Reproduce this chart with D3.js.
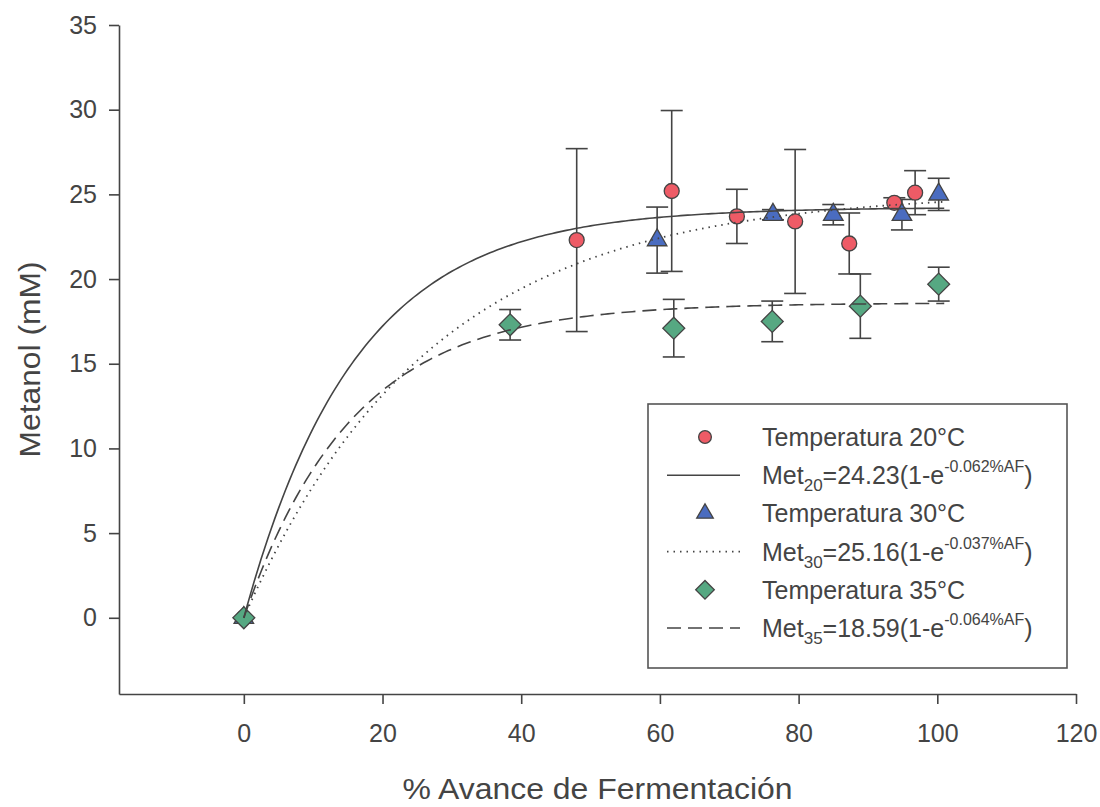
<!DOCTYPE html>
<html>
<head>
  <title>Metanol vs Avance de Fermentacion</title>
  <script src="https://d3js.org/d3.v7.min.js"></script>
  <style>
    body { margin: 0; background: #fff; }
    svg text { font-family: "Liberation Sans", Arial, sans-serif; fill: #444; }
  </style>
</head>
<body>
  <div id="chart"></div>
  <script>
    // ---- data ----
    const xTicks = [0, 20, 40, 60, 80, 100, 120];
    const yTicks = [0, 5, 10, 15, 20, 25, 30, 35];

    // 20 C  (x = % avance, y = metanol mM, e = error)
    const x20 = [0, 48.0, 61.7, 71.1, 79.5, 87.3, 93.8, 96.8];
    const y20 = [0, 22.3, 25.2, 23.7, 23.4, 22.1, 24.5, 25.1];
    const e20 = [0, 5.4, 4.75, 1.6, 4.25, 1.8, 0.3, 1.3];

    // 30 C
    const x30 = [0, 59.6, 76.3, 85.0, 94.9, 100.2];
    const y30 = [0, 22.3, 23.8, 23.8, 23.8, 25.0];
    const e30 = [0, 1.95, 0.3, 0.6, 0.9, 0.95];

    // 35 C
    const x35 = [0, 38.4, 62.0, 76.2, 88.9, 100.2];
    const y35 = [0, 17.3, 17.1, 17.5, 18.4, 19.7];
    const e35 = [0, 0.9, 1.7, 1.2, 1.9, 1.0];

    // fitted models from the legend: Met = A(1 - e^(-k %AF))
    const fitA = [24.23, 25.16, 18.59];
    const fitK = [0.062, 0.037, 0.064];
    const fitLabels = ["20", "30", "35"];
    const fitTexts = ["24.23", "25.16", "18.59"];
    const fitExp = ["-0.062%AF", "-0.037%AF", "-0.064%AF"];

    const width = 1100, height = 807;
    const svg = d3.select("#chart").append("svg")
      .attr("width", width)
      .attr("height", height);

    const xScale = d3.scaleLinear().domain([-18, 120]).range([119, 1076]);
    const yScale = d3.scaleLinear().domain([-4.5, 35]).range([694, 25]);

    const ink = "#444";

    // axes
    const xAxis = svg.append("g")
      .attr("transform", "translate(0," + yScale(-4.5) + ")")
      .call(d3.axisBottom(xScale).tickValues(xTicks).tickSize(10).tickSizeOuter(0).tickPadding(20));
    const yAxis = svg.append("g")
      .attr("transform", "translate(" + xScale(-18) + ",0)")
      .call(d3.axisLeft(yScale).tickValues(yTicks).tickSize(10).tickSizeOuter(0).tickPadding(12));

    [xAxis, yAxis].forEach(function(ax) {
      ax.select(".domain").attr("stroke", ink).attr("stroke-width", 1.6);
      ax.selectAll(".tick line").attr("stroke", ink).attr("stroke-width", 1.6);
      ax.selectAll(".tick text")
        .style("font-family", "'Liberation Sans', Arial, sans-serif")
        .style("font-size", "25px")
        .attr("fill", ink);
    });
    xAxis.selectAll(".tick text").attr("dy", "0.71em");

    // axis titles
    svg.append("text")
      .attr("x", (xScale(-18) + xScale(120)) / 2)
      .attr("y", 799)
      .attr("text-anchor", "middle")
      .style("font-size", "30px")
      .attr("textLength", 390)
      .attr("lengthAdjust", "spacingAndGlyphs")
      .text("% Avance de Fermentación");

    svg.append("text")
      .attr("transform", "translate(40," + (yScale(-4.5) + yScale(35)) / 2 + ") rotate(-90)")
      .attr("text-anchor", "middle")
      .style("font-size", "30px")
      .attr("textLength", 196)
      .attr("lengthAdjust", "spacingAndGlyphs")
      .text("Metanol (mM)");

    // series setup
    const series = [
      { xs: x20, ys: y20, es: e20, fill: "#ee5b66", symbol: "circle" },
      { xs: x30, ys: y30, es: e30, fill: "#4a6cc0", symbol: "triangle" },
      { xs: x35, ys: y35, es: e35, fill: "#56a882", symbol: "diamond" }
    ];
    const dashes = [null, "1.5,5", "14,7"];

    function drawSymbol(g, kind, fill, k) {
      if (kind === "circle") {
        g.append("circle").attr("r", 7.5 * k);
      } else if (kind === "triangle") {
        g.append("path").attr("d", d3.symbol(d3.symbolTriangle, 165 * k * k)());
      } else {
        g.append("path").attr("d", d3.symbol(d3.symbolSquare, 240 * k * k)())
          .attr("transform", "rotate(45)");
      }
      g.selectAll("circle, path")
        .attr("fill", fill)
        .attr("stroke", ink)
        .attr("stroke-width", 1.3);
    }

    // error bars
    const cap = 11;
    series.forEach(function(s) {
      const pts = s.xs.map((x, i) => ({ x: x, y: s.ys[i], e: s.es[i] })).filter(d => d.e > 0);
      const eb = svg.append("g").attr("stroke", ink).attr("stroke-width", 1.6);
      pts.forEach(function(d) {
        const cx = xScale(d.x);
        eb.append("line").attr("x1", cx).attr("x2", cx)
          .attr("y1", yScale(d.y - d.e)).attr("y2", yScale(d.y + d.e));
        [d.y - d.e, d.y + d.e].forEach(function(v) {
          eb.append("line").attr("x1", cx - cap).attr("x2", cx + cap)
            .attr("y1", yScale(v)).attr("y2", yScale(v));
        });
      });
    });

    // markers
    series.forEach(function(s) {
      s.xs.forEach(function(x, i) {
        const g = svg.append("g")
          .attr("transform", "translate(" + xScale(x) + "," + yScale(s.ys[i]) + ")");
        drawSymbol(g, s.symbol, s.fill, 1);
      });
    });

    // fitted curves
    const line = d3.line().x(d => xScale(d[0])).y(d => yScale(d[1]));
    fitA.forEach(function(A, j) {
      const pts = d3.range(0, 101.01, 0.5).map(x => [x, A * (1 - Math.exp(-fitK[j] * x))]);
      svg.append("path")
        .datum(pts)
        .attr("d", line)
        .attr("fill", "none")
        .attr("stroke", ink)
        .attr("stroke-width", j === 1 ? 1.8 : 1.6)
        .attr("stroke-dasharray", dashes[j]);
    });

    // legend
    const legend = svg.append("g");
    legend.append("rect")
      .attr("x", 648).attr("y", 404)
      .attr("width", 419).attr("height", 264)
      .attr("fill", "#fff")
      .attr("stroke", "#555")
      .attr("stroke-width", 1.6);

    const rowTop = 437, rowStep = 38.2;
    series.forEach(function(s, j) {
      const ySym = rowTop + rowStep * 2 * j;
      const yLine = ySym + rowStep;

      const g = legend.append("g").attr("transform", "translate(705," + ySym + ")");
      drawSymbol(g, s.symbol, s.fill, 0.85);
      legend.append("text")
        .attr("x", 762).attr("y", ySym + 9)
        .style("font-size", "25px")
        .text("Temperatura " + fitLabels[j] + "°C");

      legend.append("line")
        .attr("x1", 667).attr("x2", 740)
        .attr("y1", yLine).attr("y2", yLine)
        .attr("stroke", ink)
        .attr("stroke-width", j === 1 ? 1.8 : 1.6)
        .attr("stroke-dasharray", dashes[j]);

      const t = legend.append("text")
        .attr("x", 762).attr("y", yLine + 9)
        .style("font-size", "25px");
      t.append("tspan").text("Met");
      t.append("tspan").attr("dy", 7).style("font-size", "17px").text(fitLabels[j]);
      t.append("tspan").attr("dy", -7).text("=" + fitTexts[j] + "(1-e");
      t.append("tspan").attr("dy", -12).style("font-size", "16px").text(fitExp[j]);
      t.append("tspan").attr("dy", 12).text(")");
    });
  </script>
</body>
</html>
